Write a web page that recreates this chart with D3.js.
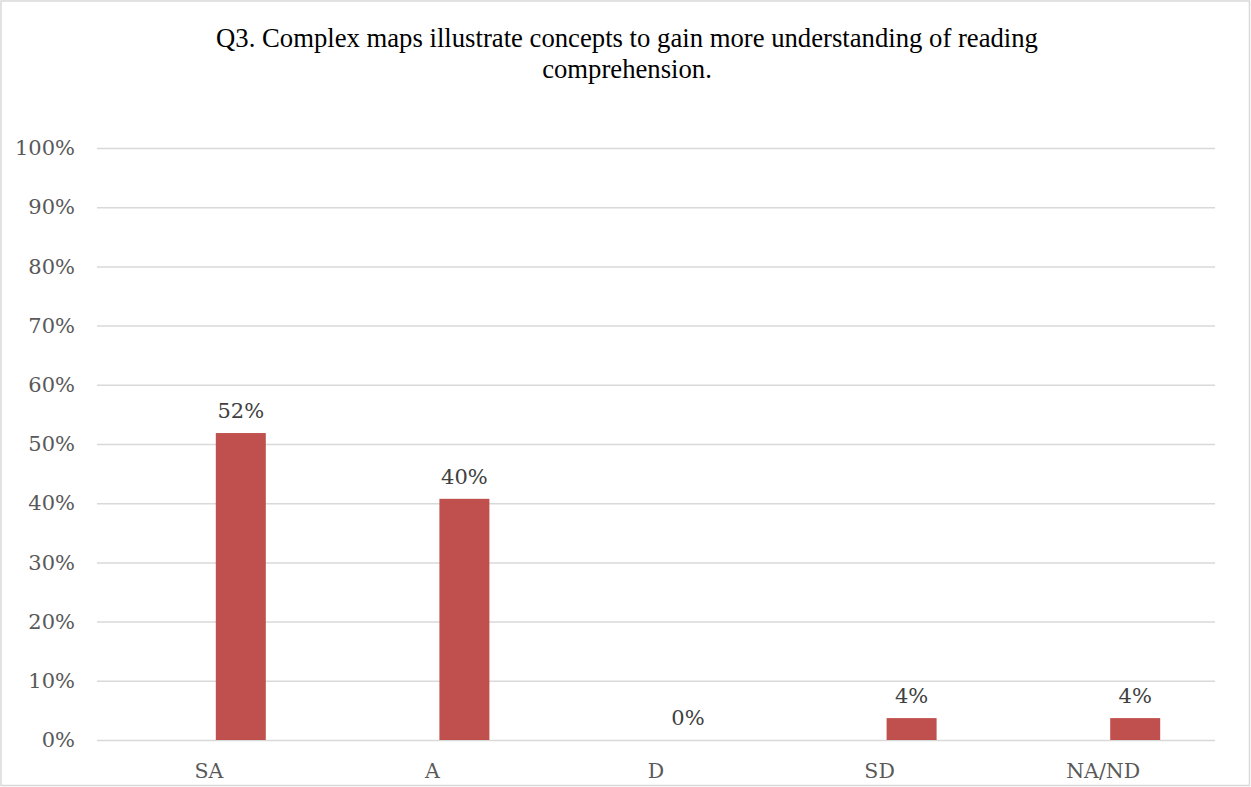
<!DOCTYPE html>
<html><head><meta charset="utf-8">
<script src="https://cdn.jsdelivr.net/npm/d3@7"></script>
<style>body{margin:0;background:#fff}svg{display:block}</style>
</head><body>
<svg id="chart" width="1251" height="787"></svg>
<script>
const titleLines = ["Q3. Complex maps illustrate concepts to gain more understanding of reading", "comprehension."];
const categories = ["SA", "A", "D", "SD", "NA/ND"];
const seriesSlots = ["blank", "Q3"];
const values = [0.5185, 0.4074, 0, 0.037, 0.037];
const valueLabels = ["52%", "40%", "0%", "4%", "4%"];
const yTicks = [0, 0.1, 0.2, 0.3, 0.4, 0.5, 0.6, 0.7, 0.8, 0.9, 1.0];

const svg = d3.select("#chart");
const W = 1251, H = 787;
const m = {left: 97, right: 36, top: 148, bottom: 47};
const axisFont = "'DejaVu Serif', serif";

svg.append("rect").attr("x", 1).attr("y", 1).attr("width", W - 2.5).attr("height", H - 2.5)
  .attr("fill", "#fff").attr("stroke", "#d9d9d9").attr("stroke-width", 1.5);

const x = d3.scaleBand().domain(categories).range([m.left, W - m.right]);
const x1 = d3.scaleBand().domain(seriesSlots)
  .range([x.bandwidth() / 2 - 57, x.bandwidth() / 2 + 57]).paddingInner(0.21875);
const y = d3.scaleLinear().domain([0, 1]).range([H - m.bottom, m.top]);

// title
svg.append("text").attr("x", 627).attr("y", 47)
  .attr("text-anchor", "middle").attr("font-family", "'Liberation Serif', 'Times New Roman', serif")
  .attr("font-size", 26.7).attr("fill", "#000")
  .selectAll("tspan").data(titleLines).join("tspan")
  .attr("x", 627).attr("dy", (d, i) => i === 0 ? 0 : 30.5).text(d => d);

// gridlines + y axis
const yAxis = d3.axisLeft(y).tickValues(yTicks).tickSize(-(W - m.left - m.right)).tickPadding(22)
  .tickFormat(d3.format(".0%"));
const gy = svg.append("g").attr("transform", `translate(${m.left},0)`).call(yAxis);
gy.select(".domain").remove();
gy.selectAll(".tick line").attr("stroke", "#d9d9d9").attr("stroke-width", 1.5);
gy.selectAll(".tick text").attr("font-family", axisFont).attr("font-size", 21).attr("fill", "#595959");

// bars
svg.append("g").selectAll("rect").data(values).join("rect")
  .attr("x", (d, i) => x(categories[i]) + x1("Q3"))
  .attr("width", x1.bandwidth())
  .attr("y", d => y(d))
  .attr("height", d => y(0) - y(d))
  .attr("fill", "#c0504d");

// value labels
svg.append("g").selectAll("text").data(values).join("text")
  .attr("x", (d, i) => x(categories[i]) + x1("Q3") + x1.bandwidth() / 2)
  .attr("y", d => y(d) - 15)
  .attr("text-anchor", "middle").attr("font-family", axisFont).attr("font-size", 21).attr("fill", "#404040")
  .text((d, i) => valueLabels[i]);

// x axis labels
const xAxis = d3.axisBottom(x).tickSize(0).tickPadding(23);
const gx = svg.append("g").attr("transform", `translate(0,${H - m.bottom})`).call(xAxis);
gx.select(".domain").remove();
gx.selectAll(".tick text").attr("font-family", axisFont).attr("font-size", 20.5).attr("fill", "#595959");
</script>
</body></html>
